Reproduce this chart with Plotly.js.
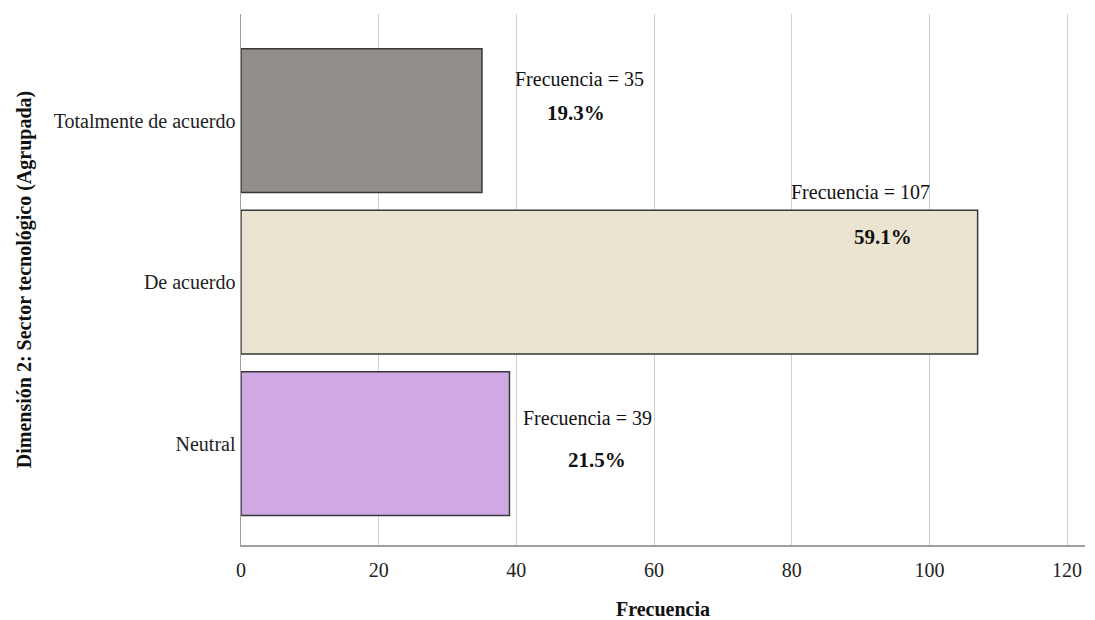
<!DOCTYPE html>
<html>
<head>
<meta charset="utf-8">
<script src="https://cdn.plot.ly/plotly-3.0.1.min.js"></script>
<style>html,body{margin:0;padding:0;background:#fff;}#chart{width:1095px;height:620px;}</style>
</head>
<body>
<div id="chart"></div>
<script>
const categories = ["Neutral", "De acuerdo", "Totalmente de acuerdo"];
const frequencies = [39, 107, 35];
const percents = ["21.5%", "59.1%", "19.3%"];
const colors = ["#d0a9e4", "#ebe4d1", "#928e8c"];

const FONT = "Liberation Serif, Times New Roman, serif";

const trace = {
  type: "bar",
  orientation: "h",
  y: categories,
  x: frequencies,
  width: 0.89,
  marker: { color: colors, line: { color: "#383838", width: 1.5 } },
  hoverinfo: "x+y"
};

// label offsets (relative to bar ends / centers)
const freqDx = [11.3, -17.0, 14.1];
const freqDy = [0.16, 0.56, 0.26];
const pctDx = [12.7, -13.8, 13.7];
const pctDy = [-0.10, 0.28, 0.05];

const annotations = [];
categories.forEach((c, i) => {
  annotations.push({
    x: frequencies[i] + freqDx[i], y: i + freqDy[i], xref: "x", yref: "y",
    text: "Frecuencia = " + frequencies[i], showarrow: false,
    font: { family: FONT, size: 20, color: "#111" }, xanchor: "center", yanchor: "middle"
  });
  annotations.push({
    x: frequencies[i] + pctDx[i], y: i + pctDy[i], xref: "x", yref: "y",
    text: "<b>" + percents[i] + "</b>", showarrow: false,
    font: { family: FONT, size: 21, color: "#111" }, xanchor: "center", yanchor: "middle"
  });
});

const layout = {
  width: 1095, height: 620,
  margin: { l: 241, r: 10, t: 14, b: 75 },
  paper_bgcolor: "#fff", plot_bgcolor: "#fff",
  showlegend: false,
  xaxis: {
    range: [0, 122.6],
    tickvals: [0, 20, 40, 60, 80, 100, 120],
    showgrid: true, gridcolor: "#d0d0d0", gridwidth: 1,
    zeroline: false,
    showline: true, linecolor: "#a0a0a0", linewidth: 1.5,
    ticks: "", ticklen: 0, ticklabelstandoff: 6,
    tickfont: { family: FONT, size: 20, color: "#222" },
    title: { text: "<b>Frecuencia</b>", font: { family: FONT, size: 20, color: "#111" }, standoff: 24 }
  },
  yaxis: {
    range: [-0.627, 2.66],
    showgrid: false, zeroline: false,
    showline: true, linecolor: "#a0a0a0", linewidth: 1.5,
    ticks: "", ticklen: 0, ticklabelstandoff: 0,
    tickfont: { family: FONT, size: 20, color: "#222" },
    title: { text: "<b>Dimensión 2: Sector tecnológico (Agrupada)</b>", font: { family: FONT, size: 20, color: "#111" }, standoff: 16 }
  },
  annotations: annotations
};

Plotly.newPlot("chart", [trace], layout, { displayModeBar: false, staticPlot: true });
</script>
</body>
</html>
